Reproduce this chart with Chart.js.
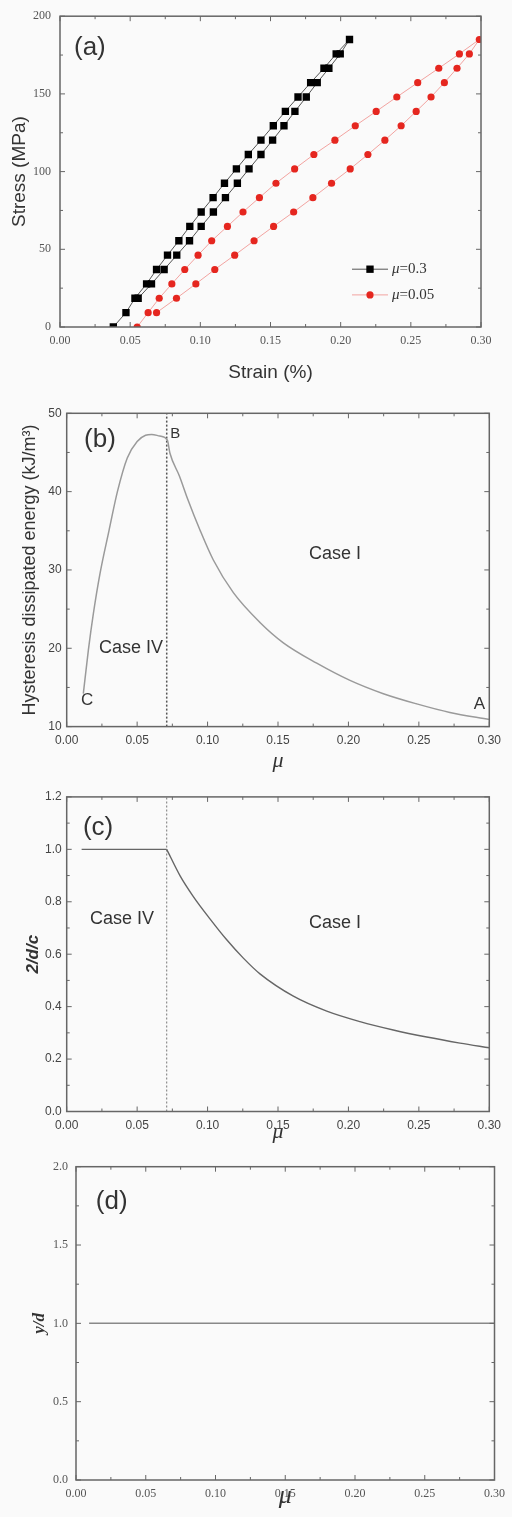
<!DOCTYPE html>
<html><head><meta charset="utf-8">
<script src="https://cdn.jsdelivr.net/npm/chart.js@4.4.1/dist/chart.umd.min.js"></script>
<style>
html,body{margin:0;padding:0;background:#fafafa;}
body{width:512px;height:1517px;position:relative;overflow:hidden;}
canvas{position:absolute;left:0;}
</style></head><body>
<canvas id="ca" width="512" height="390" style="top:0px"></canvas>
<canvas id="cb" width="512" height="395" style="top:385px"></canvas>
<canvas id="cc" width="512" height="375" style="top:780px"></canvas>
<canvas id="cd" width="512" height="370" style="top:1150px"></canvas>
<script>
// ---------- Panel (a) data ----------
const stressUp = [0, 9.25, 18.5, 27.75, 37, 46.25, 55.5, 64.75, 74, 83.25, 92.5, 101.75, 111, 120.25, 129.5, 138.75, 148, 157.25, 166.5, 175.75, 185];
const blackUpStrain = [0.038, 0.0470, 0.0534, 0.0617, 0.0688, 0.0766, 0.0847, 0.0925, 0.1006, 0.1091, 0.1172, 0.1257, 0.1342, 0.1432, 0.1520, 0.1606, 0.1696, 0.1786, 0.1881, 0.1968, 0.2063];
const blackDownStress = [175.75, 166.5, 157.25, 148, 138.75, 129.5, 120.25, 111, 101.75, 92.5, 83.25, 74, 64.75, 55.5, 46.25, 37, 27.75, 18.5];
const blackDownStrain = [0.1997, 0.1916, 0.1833, 0.1755, 0.1674, 0.1596, 0.1515, 0.1432, 0.1347, 0.1264, 0.1179, 0.1093, 0.1006, 0.0923, 0.0832, 0.0742, 0.0652, 0.0557];
const redUpStrain = [0.0550, 0.0628, 0.0707, 0.0797, 0.0889, 0.0984, 0.1081, 0.1193, 0.1304, 0.1421, 0.1539, 0.1672, 0.1809, 0.1959, 0.2104, 0.2253, 0.2400, 0.2549, 0.2699, 0.2846, 0.2988];
const redDownStress = [175.75, 166.5, 157.25, 148, 138.75, 129.5, 120.25, 111, 101.75, 92.5, 83.25, 74, 64.75, 55.5, 46.25, 37, 27.75, 18.5, 9.25];
const redDownStrain = [0.2917, 0.2829, 0.2739, 0.2644, 0.2538, 0.2431, 0.2315, 0.2194, 0.2068, 0.1935, 0.1802, 0.1665, 0.1522, 0.1383, 0.1245, 0.1103, 0.0968, 0.0830, 0.0688];
const seriesNamesA = ['\u03bc=0.3', '\u03bc=0.05'];

// ---------- Panel (b) data ----------
const muB = [0.0118, 0.0154, 0.0189, 0.0237, 0.0300, 0.0360, 0.0430, 0.0500, 0.0560, 0.0603, 0.0660, 0.0714, 0.0733, 0.0800, 0.0860, 0.0946, 0.1040, 0.1183, 0.1372, 0.1538, 0.1775, 0.2011, 0.2248, 0.2485, 0.2720, 0.3000];
const energyB = [14.2, 19.8, 24.4, 29.6, 35.0, 40.0, 44.3, 46.4, 47.2, 47.3, 47.1, 46.6, 44.9, 42.0, 39.0, 35.1, 31.3, 27.1, 23.3, 20.7, 18.1, 15.9, 14.2, 12.9, 11.8, 10.9];
const boundaryMu = [0.071, 0.071];
const boundaryB = [10, 50];

// ---------- Panel (c) data ----------
const muCFlat = [0.0106, 0.071];
const ratioCFlat = [1.0, 1.0];
const muC = [0.071, 0.0804, 0.0899, 0.1017, 0.1136, 0.1254, 0.1372, 0.1609, 0.1846, 0.2082, 0.2318, 0.2556, 0.2792, 0.300];
const ratioC = [1.0, 0.90, 0.82, 0.735, 0.655, 0.585, 0.525, 0.44, 0.383, 0.343, 0.311, 0.284, 0.261, 0.243];
const boundaryC = [0, 1.2];

// ---------- Panel (d) data ----------
const muD = [0.0094, 0.30];
const ratioD = [1.0, 1.0];

// ---------- tick steps ----------
const xTickStep = 0.05;
const stressStep = 50, energyStep = 10, ratioCStep = 0.2, ratioDStep = 0.5;

const pts = (xs, ys) => xs.map((x, i) => ({x, y: ys[i]}));

// ---------- plugins ----------
const frameTicks = {
  id: 'frameTicks',
  afterDatasetsDraw(chart, args, o) {
    const {ctx, chartArea: a} = chart;
    const xs = chart.scales.x, ys = chart.scales.y;
    ctx.save();
    ctx.strokeStyle = o.color; ctx.lineWidth = 1;
    const seg = (x1, y1, x2, y2) => { ctx.beginPath(); ctx.moveTo(x1, y1); ctx.lineTo(x2, y2); ctx.stroke(); };
    const vals = s => { const t = s.ticks.map(k => k.value); const out = []; t.forEach((v, i) => { out.push([v, o.major]); if (i < t.length - 1) out.push([(v + t[i + 1]) / 2, o.minor]); }); return out; };
    vals(xs).forEach(([v, l]) => { const p = xs.getPixelForValue(v); seg(p, a.bottom, p, a.bottom - l); seg(p, a.top, p, a.top + l); });
    vals(ys).forEach(([v, l]) => { const p = ys.getPixelForValue(v); seg(a.left, p, a.left + l, p); seg(a.right, p, a.right - l, p); });
    ctx.lineWidth = o.width;
    ctx.strokeRect(a.left, a.top, a.right - a.left, a.bottom - a.top);
    ctx.restore();
  }
};
const annoPlugin = {
  id: 'anno',
  afterDatasetsDraw(chart, args, o) {
    const {ctx} = chart;
    ctx.save();
    (o.items || []).forEach(it => {
      ctx.font = it.font; ctx.fillStyle = it.color || '#333';
      ctx.textAlign = 'center'; ctx.textBaseline = 'middle';
      ctx.fillText(it.text, chart.scales.x.getPixelForValue(it.x), chart.scales.y.getPixelForValue(it.y));
    });
    ctx.restore();
  }
};
const miniLegend = {
  id: 'miniLegend',
  afterDatasetsDraw(chart, args, o) {
    if (!o.show) return;
    const {ctx, chartArea: a} = chart;
    ctx.save();
    chart.data.datasets.forEach((ds, i) => {
      const y = a.top + o.top + i * o.gap, x0 = a.left + o.left;
      ctx.strokeStyle = ds.borderColor; ctx.lineWidth = 1;
      ctx.beginPath(); ctx.moveTo(x0, y); ctx.lineTo(x0 + 36, y); ctx.stroke();
      ctx.fillStyle = ds.pointBackgroundColor;
      if (ds.pointStyle === 'rect') { const s = ds.pointRadius * Math.SQRT1_2; ctx.fillRect(x0 + 18 - s, y - s, 2 * s, 2 * s); }
      else { ctx.beginPath(); ctx.arc(x0 + 18, y, ds.pointRadius, 0, Math.PI * 2); ctx.fill(); }
      ctx.fillStyle = '#333'; ctx.textBaseline = 'middle'; ctx.textAlign = 'left';
      const first = ds.label.charAt(0), rest = ds.label.slice(1);
      ctx.font = 'italic 15px "Liberation Serif"';
      ctx.fillText(first, x0 + 40, y);
      const w = ctx.measureText(first).width;
      ctx.font = '15px "Liberation Serif"';
      ctx.fillText(rest, x0 + 40 + w, y);
    });
    ctx.restore();
  }
};

function makeChart(id, cfg) {
  const xScale = {
    type: 'linear', min: 0, max: 0.30,
    ticks: {stepSize: xTickStep, font: cfg.xTickFont, color: cfg.tickColor, padding: cfg.xTickPad, maxRotation: 0, autoSkip: false, callback: v => v.toFixed(2)},
    grid: {display: false, drawTicks: false}, border: {display: false},
    title: {display: true, text: cfg.xTitle, font: cfg.xTitleFont, color: '#333', padding: {top: 0, bottom: cfg.xTitlePad}},
    afterFit: s => { s.height = cfg.xHeight; }
  };
  const yScale = {
    type: 'linear', min: cfg.yMin, max: cfg.yMax,
    ticks: {stepSize: cfg.yStep, font: cfg.yTickFont, color: cfg.tickColor, padding: cfg.yTickPad, callback: cfg.yFmt},
    grid: {display: false, drawTicks: false}, border: {display: false},
    title: {display: true, text: cfg.yTitle, font: cfg.yTitleFont, color: '#333', padding: {top: cfg.yTitlePad, bottom: 0}},
    afterFit: s => { s.width = cfg.yWidth; }
  };
  return new Chart(document.getElementById(id), {
    type: 'scatter',
    data: {datasets: cfg.datasets},
    options: {
      responsive: false, animation: false, devicePixelRatio: 1,
      layout: {padding: {top: cfg.padTop, right: cfg.padRight, left: 0, bottom: 0}},
      scales: {x: xScale, y: yScale},
      plugins: {
        legend: {display: false}, tooltip: {enabled: false},
        frameTicks: {color: '#666', width: 1.5, major: 5, minor: 3},
        anno: {items: cfg.anno},
        miniLegend: cfg.legend || {show: false}
      }
    },
    plugins: [frameTicks, annoPlugin, miniLegend]
  });
}

const muTitleFont = {family: '"Liberation Serif"', size: 22, style: 'italic'};

// (a)
makeChart('ca', {
  datasets: [
    {label: seriesNamesA[0], data: pts(blackUpStrain, stressUp).concat(pts(blackDownStrain, blackDownStress)), showLine: true, borderColor: '#555', borderWidth: 1, pointStyle: 'rect', pointRadius: 5.2, pointBackgroundColor: '#000', pointBorderWidth: 0},
    {label: seriesNamesA[1], data: pts(redUpStrain, stressUp).concat(pts(redDownStrain, redDownStress)), showLine: true, borderColor: '#f2a3a0', borderWidth: 1, pointStyle: 'circle', pointRadius: 3.6, pointBackgroundColor: '#e5261f', pointBorderWidth: 0}
  ],
  xTitle: 'Strain (%)', xTitleFont: {family: '"Liberation Sans"', size: 19}, xTitlePad: 5.6, xHeight: 63,
  xTickFont: {family: '"Liberation Serif"', size: 12}, xTickPad: 7, tickColor: '#555',
  yTitle: 'Stress (MPa)', yTitleFont: {family: '"Liberation Sans"', size: 19}, yTitlePad: 8.6, yWidth: 60,
  yTickFont: {family: '"Liberation Serif"', size: 12}, yTickPad: 9,
  yMin: 0, yMax: 200, yStep: stressStep, yFmt: v => String(v),
  padTop: 13, padRight: 31,
  anno: [{text: '(a)', x: 0.0213, y: 179.6, font: '26px "Liberation Sans"'}],
  legend: {show: true, left: 292, top: 253, gap: 25.7}
});

// (b)
makeChart('cb', {
  datasets: [
    {data: pts(muB, energyB), showLine: true, borderColor: '#9a9a9a', borderWidth: 1.5, pointRadius: 0, cubicInterpolationMode: 'monotone'},
    {data: pts(boundaryMu, boundaryB), showLine: true, borderColor: '#555', borderWidth: 1.5, borderDash: [2, 2], pointRadius: 0}
  ],
  xTitle: '\u03bc', xTitleFont: muTitleFont, xTitlePad: 5.8, xHeight: 53.4,
  xTickFont: {family: '"Liberation Sans"', size: 12}, xTickPad: 7, tickColor: '#444',
  yTitle: 'Hysteresis dissipated energy (kJ/m\u00b3)', yTitleFont: {family: '"Liberation Sans"', size: 18}, yTitlePad: 19, yWidth: 66.7,
  yTickFont: {family: '"Liberation Sans"', size: 12}, yTickPad: 5,
  yMin: 10, yMax: 50, yStep: energyStep, yFmt: v => String(v),
  padTop: 28.3, padRight: 22.7,
  anno: [
    {text: '(b)', x: 0.0236, y: 46.6, font: '26px "Liberation Sans"'},
    {text: 'B', x: 0.077, y: 47.4, font: '15px "Liberation Sans"'},
    {text: 'Case I', x: 0.1905, y: 32.0, font: '18px "Liberation Sans"'},
    {text: 'Case IV', x: 0.0457, y: 20.0, font: '18px "Liberation Sans"'},
    {text: 'C', x: 0.0145, y: 13.3, font: '17px "Liberation Sans"'},
    {text: 'A', x: 0.293, y: 12.8, font: '17px "Liberation Sans"'}
  ]
});

// (c)
makeChart('cc', {
  datasets: [
    {data: pts(muCFlat, ratioCFlat), showLine: true, borderColor: '#666', borderWidth: 1.4, pointRadius: 0},
    {data: pts(muC, ratioC), showLine: true, borderColor: '#666', borderWidth: 1.4, pointRadius: 0, cubicInterpolationMode: 'monotone'},
    {data: pts(boundaryMu, boundaryC), showLine: true, borderColor: '#777', borderWidth: 1, borderDash: [2, 2], pointRadius: 0}
  ],
  xTitle: '\u03bc', xTitleFont: muTitleFont, xTitlePad: 9.8, xHeight: 43.5,
  xTickFont: {family: '"Liberation Sans"', size: 12}, xTickPad: 6.5, tickColor: '#444',
  yTitle: '2/d/c', yTitleFont: {family: '"Liberation Sans"', size: 17, style: 'italic', weight: 'bold'}, yTitlePad: 23.3, yWidth: 66.7,
  yTickFont: {family: '"Liberation Sans"', size: 12}, yTickPad: 5,
  yMin: 0, yMax: 1.2, yStep: ratioCStep, yFmt: v => v.toFixed(1),
  padTop: 16.9, padRight: 22.7,
  anno: [
    {text: '(c)', x: 0.0223, y: 1.082, font: '26px "Liberation Sans"'},
    {text: 'Case IV', x: 0.0393, y: 0.735, font: '18px "Liberation Sans"'},
    {text: 'Case I', x: 0.1905, y: 0.72, font: '18px "Liberation Sans"'}
  ]
});

// (d)
makeChart('cd', {
  datasets: [
    {data: pts(muD, ratioD), showLine: true, borderColor: '#888', borderWidth: 1.5, pointRadius: 0}
  ],
  xTitle: '\u03bc', xTitleFont: {family: '"Liberation Serif"', size: 26, style: 'italic'}, xTitlePad: 8.4, xHeight: 40,
  xTickFont: {family: '"Liberation Serif"', size: 12}, xTickPad: 7, tickColor: '#555',
  yTitle: 'y/d', yTitleFont: {family: '"Liberation Serif"', size: 17, style: 'italic', weight: 'bold'}, yTitlePad: 29.3, yWidth: 76,
  yTickFont: {family: '"Liberation Serif"', size: 12}, yTickPad: 8,
  yMin: 0, yMax: 2.0, yStep: ratioDStep, yFmt: v => v.toFixed(1),
  padTop: 16.7, padRight: 13.7,
  anno: [
    {text: '(d)', x: 0.0256, y: 1.774, font: '26px "Liberation Sans"'}
  ]
});
</script>
</body></html>
